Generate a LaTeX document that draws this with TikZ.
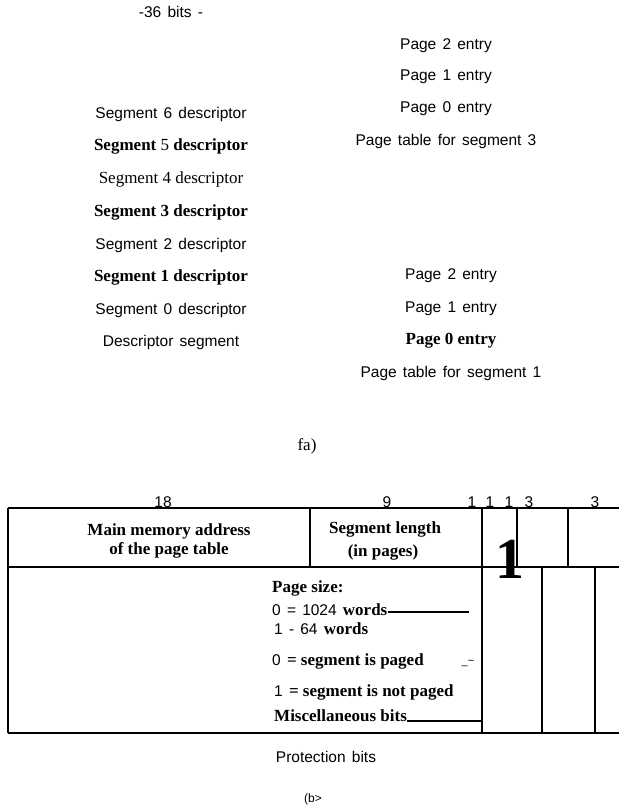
\documentclass[tikz,border=0pt]{standalone}
\usepackage{fontspec}
\setmainfont{Liberation Sans}
\newfontfamily\serifrm{Liberation Serif}
\newcommand{\sfsz}{\fontsize{15.5}{18}\selectfont\spaceskip=.4em\relax}
\newcommand{\rmsz}{\fontsize{17}{19}\selectfont\serifrm\spaceskip=0pt\relax}

\begin{document}
\begin{tikzpicture}[x=1pt, y=-1pt,
    sanslbl/.style={font=\sfsz, inner sep=0pt, text height=11pt, text depth=3pt},
    seriflbl/.style={font=\rmsz, inner sep=0pt, text height=11pt, text depth=3pt},
    boldlbl/.style={font=\rmsz\bfseries, inner sep=0pt, text height=11pt, text depth=3pt},
    frameline/.style={line width=1.2pt}]
    \useasboundingbox (0,0) rectangle (619,808);

    % Descriptor segment (part a)
    \node[sanslbl] (width) at (171,14) {-36 bits -};
    \node[sanslbl] (seg6) at (171,114) {Segment 6 descriptor};
    \node[boldlbl] (seg5) at (171,146) {Segment {\mdseries 5} descriptor};
    \node[seriflbl] (seg4) at (171,179) {Segment 4 descriptor};
    \node[boldlbl] (seg3) at (171,212) {Segment 3 descriptor};
    \node[sanslbl] (seg2) at (171,245) {Segment 2 descriptor};
    \node[boldlbl] (seg1) at (171,277) {Segment 1 descriptor};
    \node[sanslbl] (seg0) at (171,310) {Segment 0 descriptor};
    \node[sanslbl] (dseg) at (171,342) {Descriptor segment};

    % Page table for segment 3
    \node[sanslbl] (pa2) at (446,45) {Page 2 entry};
    \node[sanslbl] (pa1) at (446,76) {Page 1 entry};
    \node[sanslbl] (pa0) at (446,108) {Page 0 entry};
    \node[sanslbl] (pta) at (446,141) {Page table for segment 3};

    % Page table for segment 1
    \node[sanslbl] (pb2) at (451,275) {Page 2 entry};
    \node[sanslbl] (pb1) at (451,308) {Page 1 entry};
    \node[boldlbl] (pb0) at (451,340) {Page 0 entry};
    \node[sanslbl] (ptb) at (451,373) {Page table for segment 1};

    \node[seriflbl] (capa) at (307,446) {fa)};

    % Bit widths (part b)
    \node[sanslbl] (w18) at (163,503) {18};
    \node[sanslbl] (w9) at (387,503) {9};
    \node[sanslbl] (wa) at (472,503) {1};
    \node[sanslbl] (wb) at (490,503) {1};
    \node[sanslbl] (wc) at (509,503) {1};
    \node[sanslbl] (wd) at (529,503) {3};
    \node[sanslbl] (we) at (595,503) {3};

    % Draw the descriptor word
    \draw[frameline] (8,508) -- (619,508);
    \draw[frameline] (8,567) -- (619,567);
    \draw[frameline] (8,733) -- (619,733);
    \draw[frameline] (8,508) -- (8,733);
    \draw[frameline] (310,508) -- (310,567);
    \draw[frameline] (482,508) -- (482,733);
    \draw[frameline] (517,508) -- (517,567);
    \draw[frameline] (568,508) -- (568,567);
    \draw[frameline] (542,567) -- (542,733);
    \draw[frameline] (595,567) -- (595,733);

    \node[boldlbl] (addr1) at (169,531) {Main memory address};
    \node[boldlbl] (addr2) at (169,550) {of the page table};
    \node[boldlbl] (len1) at (385,529) {Segment length};
    \node[boldlbl] (len2) at (383,552) {(in pages)};
    \node[inner sep=0pt, font=\fontsize{58}{58}\selectfont\serifrm\bfseries] (flag) at (510,559) {1};

    % Field notes
    \node[boldlbl, anchor=west] (psize) at (272,588) {Page size:};
    \node[sanslbl, anchor=west] (size0) at (272,611) {0 = 1024 {\rmsz\bfseries words}};
    \node[sanslbl, anchor=west] (size1) at (274,630) {1 - 64 {\rmsz\bfseries words}};
    \node[sanslbl, anchor=west] (paged0) at (272,661) {0 {\rmsz\bfseries = segment is paged}};
    \node[sanslbl, anchor=west] (paged1) at (274,692) {1 {\rmsz\bfseries = segment is not paged}};
    \node[boldlbl, anchor=west] (misc) at (274,717) {Miscellaneous bits};
    \node[inner sep=0pt, font=\fontsize{11}{12}\selectfont] (tilde) at (468,663) {\_\textasciitilde};

    \coordinate (sizeend) at (469,612);
    \coordinate (miscend) at (482,721);
    \draw[frameline] (size0.east |- sizeend) -- (sizeend);
    \draw[frameline] (misc.east |- miscend) -- (miscend);

    \node[sanslbl] (prot) at (326,758) {Protection bits};
    \node[sanslbl, font=\fontsize{12}{14}\selectfont] (capb) at (313,798) {(b>};
\end{tikzpicture}
\end{document}
